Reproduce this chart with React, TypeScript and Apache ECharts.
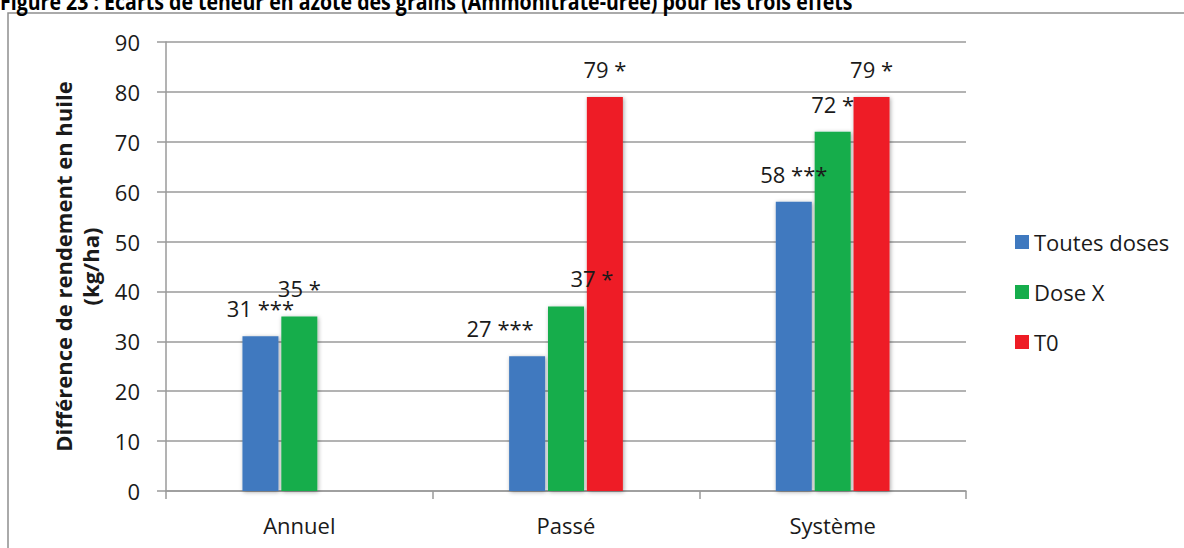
import React, { useEffect, useRef } from "react";
import * as echarts from "echarts";

const categories = ["Annuel", "Passé", "Système"];
const seriesNames = ["Toutes doses", "Dose X", "T0"];
const toutesDoses = [31, 27, 58];
const doseX = [35, 37, 72];
const t0: (number | null)[] = [null, 79, 79];
const sigToutes = ["***", "***", "***"];
const sigDoseX = ["*", "*", "*"];
const sigT0 = ["", "*", "*"];
const yTicks = [0, 10, 20, 30, 40, 50, 60, 70, 80, 90];
const title =
  "Figure 23 : Ecarts de teneur en azote des grains (Ammonitrate-urée) pour les trois effets";
const yName = "Différence de rendement en huile\n(kg/ha)";

const colors = ["#3F79BF", "#16AD4C", "#EE1C25"];
// manual label shifts (layout only)
const labelShift: Record<string, [number, number]> = {
  "0-1": [-27, 0],
  "1-1": [26, 0],
};

const FONT = '"Open Sans", "DejaVu Sans", sans-serif';

export default function App() {
  const ref = useRef<HTMLDivElement>(null);
  useEffect(() => {
    if (!ref.current) return;
    const chart = echarts.init(ref.current, null, { renderer: "svg" });
    const allValues = [toutesDoses, doseX, t0];
    const allSig = [sigToutes, sigDoseX, sigT0];
    const series = allValues.map((vals, si) => ({
      name: seriesNames[si],
      type: "bar",
      barWidth: 36,
      barGap: "8%",
      itemStyle: {
        color: colors[si],
        shadowBlur: 4,
        shadowColor: "rgba(0,0,0,0.35)",
        shadowOffsetX: 1,
        shadowOffsetY: 1,
      },
      data: vals.map((v, ci) => ({
        value: v,
        label: {
          show: v != null,
          position: "top",
          distance: 17,
          offset: labelShift[`${si}-${ci}`] || [0, 0],
          formatter: `${v} ${allSig[si][ci]}`,
          color: "#1a1a1a",
          fontSize: 22,
          fontFamily: FONT,
        },
      })),
    }));
    chart.setOption({
      animation: false,
      backgroundColor: "#ffffff",
      grid: { left: 166, right: 218, top: 42, bottom: 57 },
      legend: {
        orient: "vertical",
        left: 1010,
        top: 226,
        itemWidth: 14,
        itemHeight: 14,
        itemGap: 28,
        icon: "rect",
        data: seriesNames,
        textStyle: { fontSize: 22, fontFamily: FONT, color: "#1a1a1a" },
      },
      xAxis: {
        type: "category",
        data: categories,
        axisLine: { lineStyle: { color: "#9a9a9a", width: 1.5 } },
        axisTick: { show: true, length: 8, lineStyle: { color: "#9a9a9a", width: 1.5 } },
        axisLabel: { fontSize: 22, fontFamily: FONT, color: "#1a1a1a", margin: 23 },
      },
      yAxis: {
        type: "value",
        min: yTicks[0],
        max: yTicks[yTicks.length - 1],
        interval: yTicks[1] - yTicks[0],
        name: yName,
        nameLocation: "middle",
        nameRotate: 90,
        nameGap: 63,
        nameTextStyle: {
          fontSize: 22,
          fontWeight: "bold",
          fontFamily: FONT,
          color: "#1a1a1a",
          lineHeight: 27,
          align: "center",
        },
        axisLine: { show: true, lineStyle: { color: "#9a9a9a", width: 1.5 } },
        axisTick: { show: true, length: 9, lineStyle: { color: "#9a9a9a", width: 1.5 } },
        axisLabel: { fontSize: 22, fontFamily: FONT, color: "#1a1a1a", margin: 26 },
        splitLine: { lineStyle: { color: "#9a9a9a", width: 1.5 } },
      },
      graphic: [
        {
          type: "rect",
          z: -10,
          shape: { x: 8, y: 13, width: 1300, height: 700 },
          style: { fill: "none", stroke: "#8f8f8f", lineWidth: 1.5 },
        },
        {
          type: "text",
          x: 0,
          y: 12,
          scaleX: 0.85,
          style: {
            text: title,
            font: `bold 23px ${FONT}`,
            fill: "#000",
            verticalAlign: "bottom",
          },
        },
      ],
      series,
    });
    return () => chart.dispose();
  }, []);
  return (
    <div
      ref={ref}
      style={{ position: "absolute", left: 0, top: 0, width: 1184, height: 548 }}
    />
  );
}
